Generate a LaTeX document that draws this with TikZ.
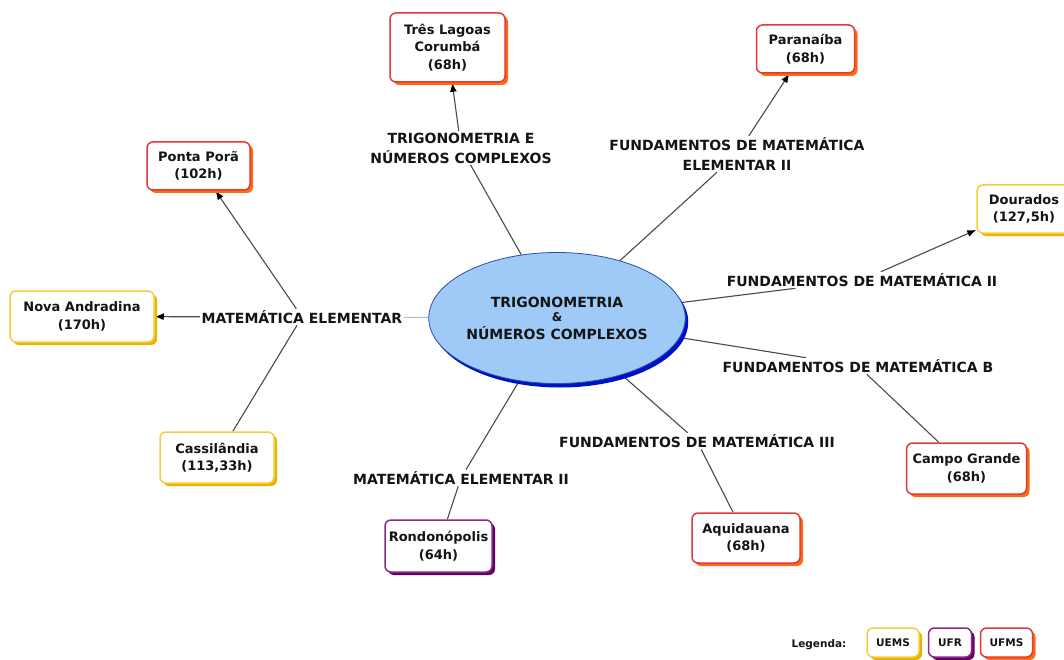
\documentclass[tikz,border=0pt]{standalone}
\usepackage{fontspec}
\setmainfont{DejaVu Sans}
\usetikzlibrary{shapes.geometric,arrows.meta,shadows,backgrounds}

\definecolor{ink}{HTML}{141414}
\definecolor{linkgray}{HTML}{4A4A4A}
\definecolor{palegray}{HTML}{BDBDBD}
\definecolor{ufmsred}{HTML}{E03A3A}
\definecolor{ufmsshade}{HTML}{FF6A10}
\definecolor{uemsyel}{HTML}{F4CE3C}
\definecolor{uemsshade}{HTML}{E8B400}
\definecolor{ufrpurple}{HTML}{8A2A8A}
\definecolor{ufrshade}{HTML}{660066}
\definecolor{hubfill}{HTML}{9FCAF8}
\definecolor{hubedge}{HTML}{2A4FA8}
\definecolor{hubshade}{HTML}{0010C8}

\tikzset{
  campus/.style 2 args={draw=#1, line width=1.5pt, fill=white, rounded corners=6pt,
    align=center, text=ink, inner sep=2pt,
    font=\fontsize{13}{17.5}\selectfont\bfseries,
    drop shadow={shadow xshift=3pt, shadow yshift=-3pt, fill=#2, opacity=1, rounded corners=6pt}},
  ufms/.style={campus={ufmsred}{ufmsshade}},
  uems/.style={campus={uemsyel}{uemsshade}},
  ufr/.style={campus={ufrpurple}{ufrshade}},
  keybox/.style={minimum width=52pt, minimum height=29pt,
    font=\fontsize{10.5}{12}\selectfont\bfseries},
  link/.style={fill=white, inner sep=1.5pt, align=center, text=ink,
    font=\fontsize{14}{20}\selectfont\bfseries},
  conn/.style={draw=linkgray, line width=1.1pt},
  arr/.style={conn, -{Latex[length=9pt,width=7pt,color=black]}},
}

\begin{document}
\begin{tikzpicture}[x=1pt, y=-1pt]
\useasboundingbox (0,0) rectangle (1064,660);
\clip (0,0) rectangle (1064,660);

% central concept
\node[ellipse, draw=hubedge, line width=0.8pt, fill=hubfill,
      minimum width=246pt, minimum height=131pt, inner sep=0pt,
      drop shadow={shadow xshift=3pt, shadow yshift=-4pt, fill=hubshade, opacity=1},
      align=center, text=ink, font=\fontsize{14}{17}\selectfont\bfseries]
  (hub) at (557,318)
  {TRIGONOMETRIA\\[-3pt]{\fontsize{12}{12}\selectfont\&}\\[1pt]NÚMEROS COMPLEXOS};

% campus concepts
\node[ufms, minimum width=115pt, minimum height=69pt] (tres)  at (447.5,47.5) {Três Lagoas\\Corumbá\\(68h)};
\node[ufms, minimum width=98pt,  minimum height=48pt] (para)  at (805.5,49)   {Paranaíba\\(68h)};
\node[ufms, minimum width=103pt, minimum height=48pt] (ponta) at (198.5,166)  {Ponta Porã\\(102h)};
\node[uems, minimum width=94pt,  minimum height=48pt] (dour)  at (1024,209)   {Dourados\\(127,5h)};
\node[uems, minimum width=144pt, minimum height=51pt] (nova)  at (82,316.5)   {Nova Andradina\\(170h)};
\node[uems, minimum width=114pt, minimum height=51pt] (cass)  at (217,457.5)  {Cassilândia\\(113,33h)};
\node[ufms, minimum width=120pt, minimum height=51pt] (campo) at (966.5,468.5){Campo Grande\\(68h)};
\node[ufr,  minimum width=107pt, minimum height=52pt] (rond)  at (438.5,546)  {Rondonópolis\\(64h)};
\node[ufms, minimum width=108pt, minimum height=50pt] (aqui)  at (746,538)    {Aquidauana\\(68h)};

% linking phrases
\node[link] (lTri) at (461,148) {TRIGONOMETRIA E\\NÚMEROS COMPLEXOS};
\node[link] (lPar) at (737,154) {FUNDAMENTOS DE MATEMÁTICA\\ELEMENTAR II};
\node[link] (lDou) at (862,280) {FUNDAMENTOS DE MATEMÁTICA II};
\node[link] (lCam) at (858,366) {FUNDAMENTOS DE MATEMÁTICA B};
\node[link] (lAqu) at (697,441) {FUNDAMENTOS DE MATEMÁTICA III};
\node[link] (lRon) at (461,478) {MATEMÁTICA ELEMENTAR II};
\node[link] (lMat) at (302,317) {MATEMÁTICA ELEMENTAR};

% connectors
\begin{pgfonlayer}{background}
\draw[conn] (hub) -- (lTri);
\draw[arr]  (lTri) -- (tres);
\draw[conn] (hub) -- (lPar);
\draw[arr]  (lPar) -- (para);
\draw[conn] (hub) -- (lDou);
\draw[arr]  (lDou) -- (dour);
\draw[conn] (hub) -- (lCam);
\draw[conn] (lCam) -- (campo);
\draw[conn] (hub) -- (lAqu);
\draw[conn] (lAqu) -- (aqui);
\draw[conn] (hub) -- (lRon);
\draw[conn] (lRon) -- (rond);
\draw[conn, draw=palegray] (hub) -- (lMat);
\draw[arr]  (lMat) -- (ponta);
\draw[arr]  (lMat) -- (nova);
\draw[conn] (lMat) -- (cass);
\end{pgfonlayer}

% legend
\node[text=ink, font=\fontsize{10.5}{12}\selectfont\bfseries] (leg) at (819,645) {Legenda:};
\node[uems, keybox] (kUEMS) at (893,642.5) {UEMS};
\node[ufr,  keybox, minimum width=43pt] (kUFR) at (950,642.5) {UFR};
\node[ufms, keybox] (kUFMS) at (1006.5,642.5) {UFMS};
\end{tikzpicture}
\end{document}
